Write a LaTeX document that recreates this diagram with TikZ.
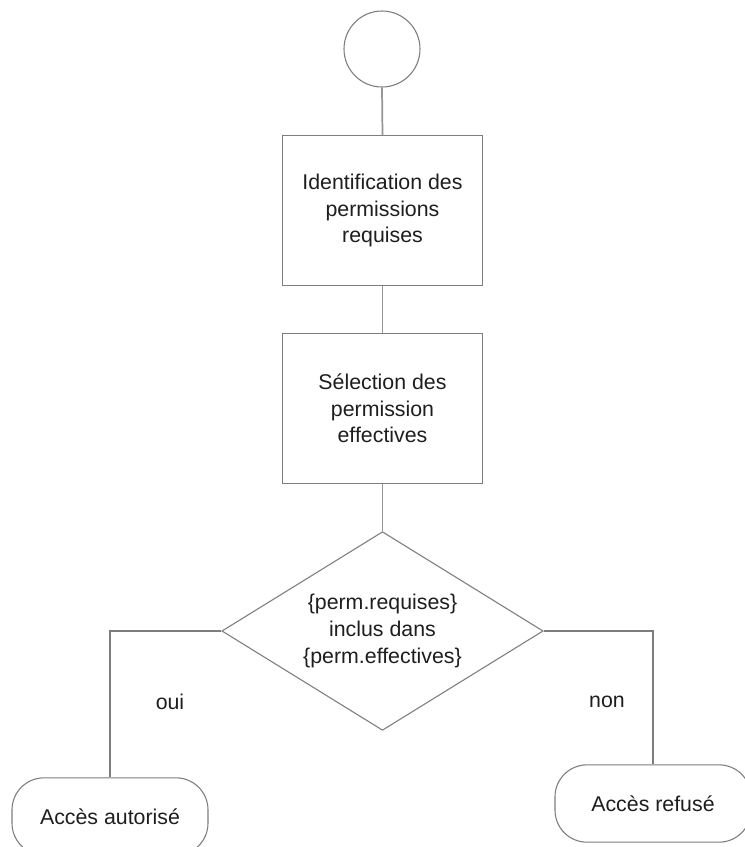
\documentclass[tikz,border=0pt]{standalone}
\usepackage{fontspec}
\setmainfont{Liberation Sans}
\usetikzlibrary{shapes.geometric}
\definecolor{edgegray}{RGB}{125,125,125}
\definecolor{linkgray}{RGB}{150,150,150}
\definecolor{inkgray}{RGB}{30,30,30}
\begin{document}
\begin{tikzpicture}[x=0.75pt,y=-0.75pt,
  every node/.style={text=inkgray,font=\fontsize{16}{20}\selectfont},
  startnode/.style={circle,draw=edgegray,line width=0.8pt,minimum size=57pt,inner sep=0pt},
  stepbox/.style={rectangle,draw=edgegray,line width=0.8pt,minimum width=150pt,minimum height=112pt,align=center,inner sep=0pt},
  testnode/.style={diamond,draw=edgegray,line width=0.8pt,minimum width=241pt,minimum height=149pt,inner sep=0pt},
  endnode/.style={rectangle,rounded corners=24pt,draw=edgegray,line width=0.8pt,minimum width=147pt,minimum height=58pt,align=center,inner sep=0pt},
  link/.style={draw=linkgray,line width=1.3pt},
  branch/.style={draw=edgegray,line width=0.8pt}]
\useasboundingbox (0,0) rectangle (744,847);
\fill[white] (0,0) rectangle (744,847);

\node[startnode] (start) at (382,49) {};
\node[stepbox] (ident) at (382.5,210.5) {Identification des\\permissions\\requises};
\node[stepbox] (select) at (382.5,408.5) {Sélection des\\permission\\effectives};
\node[testnode] (test) at (382.5,631) {};
\node[align=center] (testtext) at (382.5,631) {\{perm.requises\}\\inclus dans\\\{perm.effectives\}};
\node[endnode] (yes) at (110,816.5) {Accès autorisé};
\node[endnode] (no) at (653,803.5) {Accès refusé};

\node (oui) at (170,702) {oui};
\node (non) at (607,702) {non};

\draw[link] (start.south) -- (ident.north);
\draw[link] (ident.south) -- (select.north);
\draw[link] (select.south) -- (test.north);
\draw[branch] (test.west) -| (yes.north);
\draw[branch] (test.east) -| (no.north);
\end{tikzpicture}
\end{document}
